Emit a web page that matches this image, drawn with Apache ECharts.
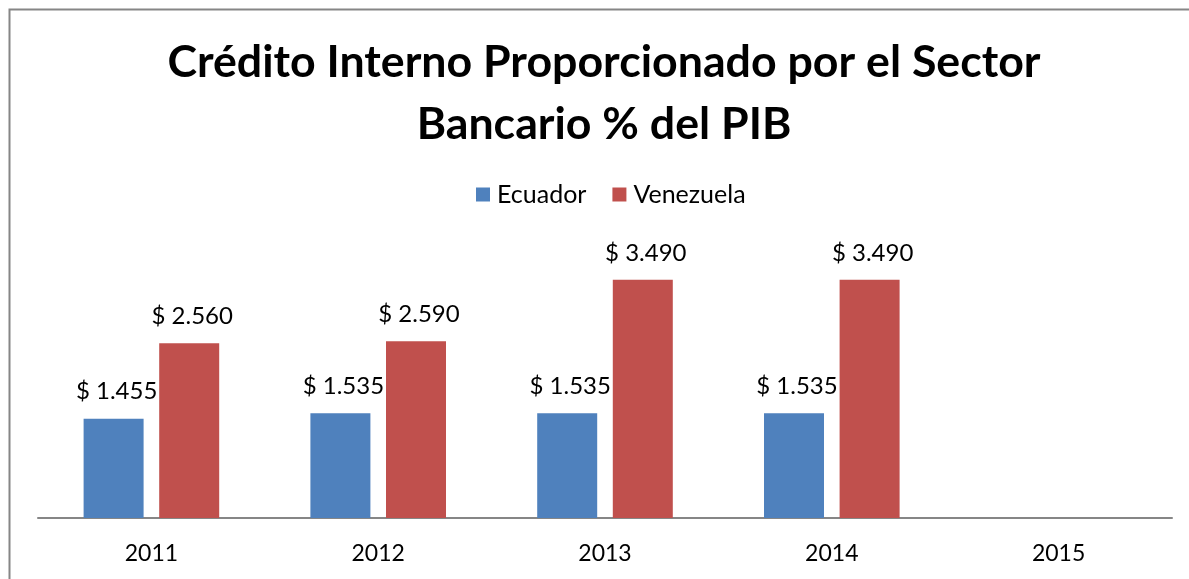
<!DOCTYPE html>
<html>
<head>
<meta charset="utf-8">
<script src="https://cdn.jsdelivr.net/npm/echarts@6/dist/echarts.min.js"></script>
<style>
  html, body { margin: 0; padding: 0; background: #fff; }
  #chart { width: 1189px; height: 579px; }
</style>
</head>
<body>
<div id="chart"></div>
<script>
// datos del gráfico
const years = ["2011", "2012", "2013", "2014", "2015"];
const ecuador = [1.455, 1.535, 1.535, 1.535, null];
const venezuela = [2.56, 2.59, 3.49, 3.49, null];

const fontFamily = "Lato, 'Open Sans', sans-serif";

const chart = echarts.init(document.getElementById("chart"));

function barLabel(dist) {
  return {
    show: true,
    position: "top",
    distance: dist,
    offset: [3, 0],
    color: "#000",
    fontSize: 24,
    fontFamily: fontFamily,
    formatter: (p) => (p.value == null ? "" : "$ " + p.value.toFixed(3)),
  };
}

chart.setOption({
  backgroundColor: "#fff",
  animation: false,
  textStyle: { fontFamily: fontFamily },
  graphic: [
    {
      // marco del gráfico
      type: "rect",
      shape: { x: 9.5, y: 9.5, width: 1400, height: 800 },
      style: { fill: "none", stroke: "#868686", lineWidth: 2 },
      silent: true,
    },
  ],
  title: {
    text: "Crédito Interno Proporcionado por el Sector\nBancario % del PIB",
    left: 599,
    textAlign: "center",
    top: 27,
    textStyle: {
      fontFamily: fontFamily,
      fontSize: 44.7,
      fontWeight: "bold",
      color: "#000",
      lineHeight: 62,
    },
  },
  legend: {
    top: 177,
    left: 471,
    itemWidth: 14,
    itemHeight: 14,
    itemGap: 26,
    icon: "rect",
    textStyle: {
      fontSize: 25,
      color: "#000",
      fontFamily: fontFamily,
      padding: [0, 0, 0, 2],
    },
    data: ["Ecuador", "Venezuela"],
  },
  grid: {
    left: 38,
    right: 17,
    top: 245,
    bottom: 61,
    containLabel: false,
  },
  xAxis: {
    type: "category",
    data: years,
    axisLine: { lineStyle: { color: "#868686", width: 2 } },
    axisTick: { show: false },
    axisLabel: {
      color: "#000",
      fontSize: 23,
      margin: 24,
      fontFamily: fontFamily,
    },
  },
  yAxis: {
    type: "value",
    min: 0,
    max: 4,
    show: false,
    splitLine: { show: false },
  },
  series: [
    {
      name: "Ecuador",
      type: "bar",
      data: ecuador,
      barWidth: 60,
      barGap: "26%",
      itemStyle: { color: "#4F81BD" },
      label: barLabel(15),
    },
    {
      name: "Venezuela",
      type: "bar",
      data: venezuela,
      barWidth: 60,
      itemStyle: { color: "#C0504D" },
      label: barLabel(15),
    },
  ],
});
</script>
</body>
</html>
